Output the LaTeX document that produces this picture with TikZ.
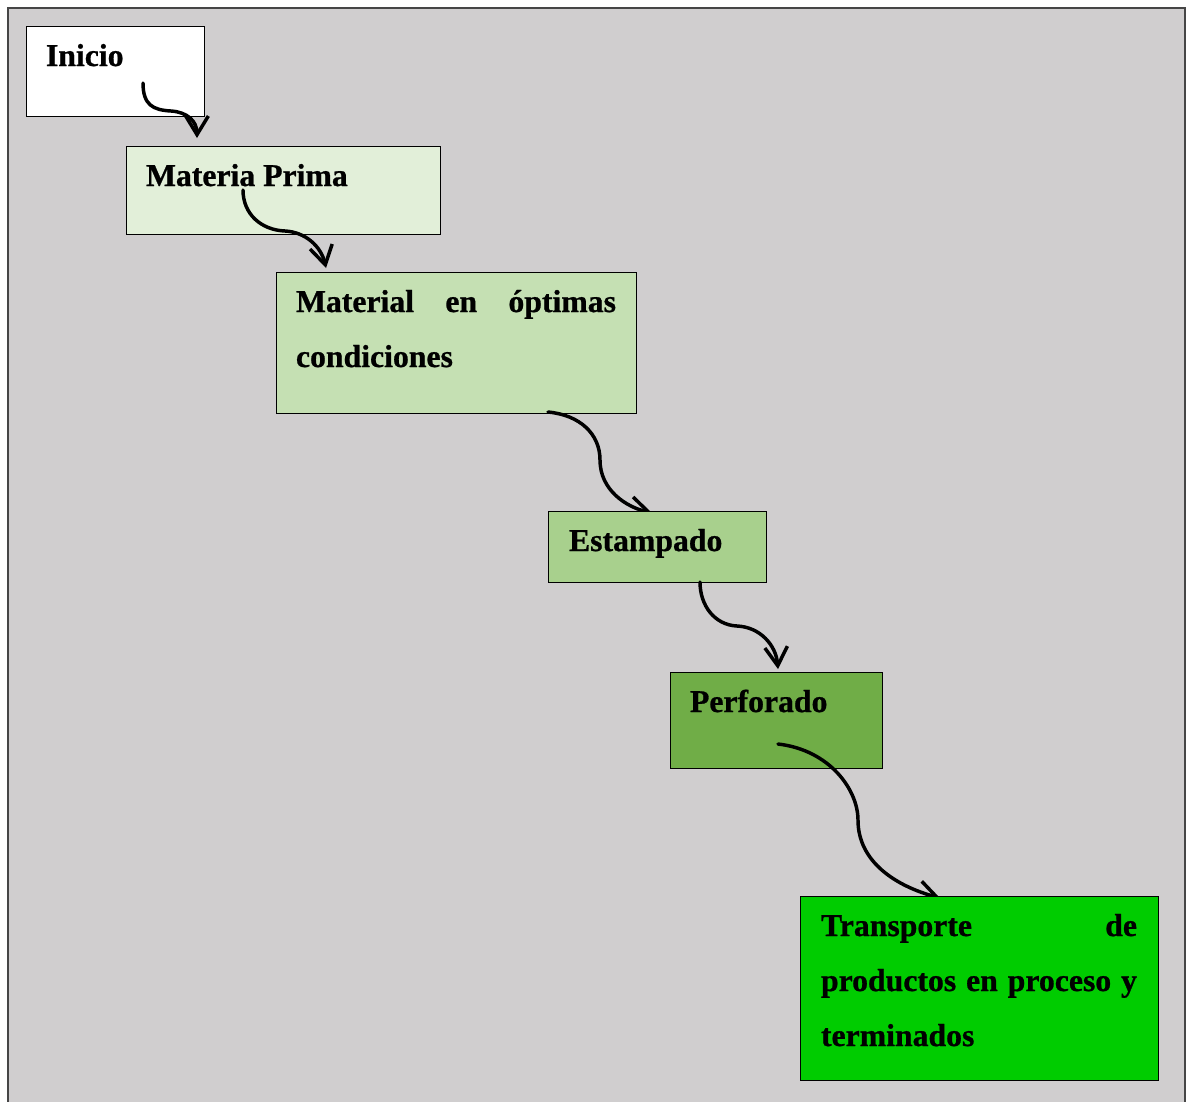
\documentclass[tikz,border=0pt]{standalone}
\usepackage{fontspec}
\setmainfont{Liberation Serif}[BoldFeatures={FakeBold=0.8}]
\usetikzlibrary{arrows.meta,calc}
\definecolor{bgray}{RGB}{208,206,207}
\definecolor{framec}{RGB}{70,70,70}
\definecolor{gA}{HTML}{E2EFD9}
\definecolor{gB}{HTML}{C5E0B3}
\definecolor{gC}{HTML}{A8D08D}
\definecolor{gD}{HTML}{70AD47}
\definecolor{gE}{HTML}{00CC00}
\hyphenpenalty=10000
\exhyphenpenalty=10000
\tolerance=10000
\hbadness=10000
\begin{document}
\begin{tikzpicture}[x=0.75pt,y=-0.75pt,
  boxstyle/.style={draw=black,line width=0.75pt,rectangle,inner sep=0pt,outer sep=0pt,anchor=north west},
  lbl/.style={anchor=base west,inner sep=0pt,outer sep=0pt,font=\bfseries\fontsize{23.8}{41.25}\selectfont},
  flow/.style={line width=2.6pt,line cap=round,-{Straight Barb[length=14pt,width=17pt]}}]
\useasboundingbox (0,0) rectangle (1186,1101);
\fill[white] (0,0) rectangle (1186,1101);
\draw[fill=bgray,draw=framec,line width=1.5pt] (8,8) rectangle (1185,1130);

% Inicio
\node[boxstyle,fill=white,minimum width=133.5pt,minimum height=67.5pt] (n1) at (26,26) {};
\node[lbl] (t1) at ($(n1.north west)+(20,40)$) {Inicio};
\coordinate (s1) at ($(n1.north west)+(117,57)$);

% Materia Prima (box drawn after arrow 1)
\coordinate (n2pos) at (126,146);
\draw[flow] (s1) .. controls ($(s1)+(0,22)$) and ($(s1)+(10,27)$) .. ($(s1)+(28,28)$)
  .. controls ($(s1)+(44,29)$) and ($(s1)+(54,38)$) .. ($(n2pos)+(71,-8)$);
\node[boxstyle,fill=gA,minimum width=235.5pt,minimum height=66pt] (n2) at (n2pos) {};
\node[lbl] (t2) at ($(n2.north west)+(20,40)$) {Materia Prima};
\coordinate (s2) at ($(n2.north west)+(117,44)$);

% Material en optimas condiciones
\coordinate (n3pos) at (276,272);
\draw[flow] (s2) .. controls ($(s2)+(0,24)$) and ($(s2)+(18,40)$) .. ($(s2)+(42,41)$)
  .. controls ($(s2)+(62,42)$) and ($(s2)+(78,56)$) .. ($(n3pos)+(50,-4)$);
\node[boxstyle,fill=gB,minimum width=270pt,minimum height=105.75pt] (n3) at (n3pos) {};
\node[lbl] (t3) at ($(n3.north west)+(20,40)$) {\parbox[t]{240pt}{Material en óptimas condiciones}};
\coordinate (s3) at ($(n3.north west)+(272,140)$);

% Estampado
\coordinate (n4pos) at (548,511);
\draw[flow] (s3) .. controls ($(s3)+(32,3)$) and ($(s3)+(52,22)$) .. ($(s3)+(52,48)$)
  .. controls ($(s3)+(52,78)$) and ($(s3)+(78,95)$) .. ($(n4pos)+(104,2)$);
\node[boxstyle,fill=gC,minimum width=163.5pt,minimum height=53.25pt] (n4) at (n4pos) {};
\node[lbl] (t4) at ($(n4.north west)+(21,40)$) {Estampado};
\coordinate (s4) at ($(n4.north west)+(152,71)$);

% Perforado
\coordinate (n5pos) at (670,672);
\draw[flow] (s4) .. controls ($(s4)+(0,24)$) and ($(s4)+(15,43)$) .. ($(s4)+(37,44)$)
  .. controls ($(s4)+(60,45)$) and ($(s4)+(76,63)$) .. ($(n5pos)+(108,-3)$);
\node[boxstyle,fill=gD,minimum width=159pt,minimum height=72pt] (n5) at (n5pos) {};
\node[lbl] (t5) at ($(n5.north west)+(20,40)$) {Perforado};
\coordinate (s5) at ($(n5.north west)+(108,72)$);

% Transporte
\coordinate (n6pos) at (800,896);
\draw[flow] (s5) .. controls ($(s5)+(52,6)$) and ($(s5)+(80,46)$) .. ($(s5)+(80,76)$)
  .. controls ($(s5)+(80,118)$) and ($(s5)+(118,142)$) .. ($(n6pos)+(140,2)$);
\node[boxstyle,fill=gE,minimum width=268.5pt,minimum height=138pt] (n6) at (n6pos) {};
\node[lbl] (t6) at ($(n6.north west)+(21,40)$) {\parbox[t]{237pt}{Transporte de productos en proceso y terminados}};
\end{tikzpicture}
\end{document}
